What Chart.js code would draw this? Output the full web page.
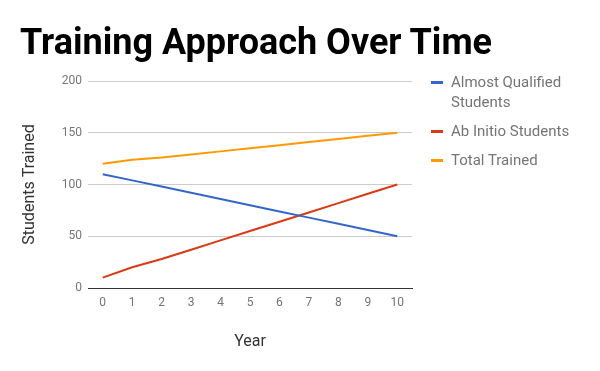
<!DOCTYPE html>
<html lang="en">
<head>
  <meta charset="UTF-8">
  <title>Training Approach Over Time</title>
  <style>
    html, body {
      margin: 0;
      padding: 0;
      background: #fff;
    }
    #wrap {
      position: relative;
      width: 600px;
      height: 371px;
      overflow: hidden;
    }
    #title {
      position: absolute;
      left: 20px;
      top: 24px;
      font-family: Roboto, sans-serif;
      font-weight: bold;
      font-size: 36px;
      line-height: 36px;
      color: #000;
      white-space: nowrap;
    }
    #legend {
      position: absolute;
      left: 431px;
      top: 72px;
      font-family: Roboto, sans-serif;
      font-size: 15px;
      line-height: 20px;
      color: #757575;
    }
    .item {
      position: relative;
      padding-left: 20px;
      margin-bottom: 9px;
      width: 140px;
    }
    .item .sw {
      position: absolute;
      left: 0;
      top: 9px;
      width: 12px;
      height: 3px;
    }
  </style>
</head>
<body>
  <div id="wrap">
    <canvas id="chart" width="600" height="371"></canvas>
    <div id="title">Training Approach Over Time</div>
    <div id="legend"></div>
  </div>

  <script src="https://cdn.jsdelivr.net/npm/chart.js"></script>
  <script>
    const years = ["0", "1", "2", "3", "4", "5", "6", "7", "8", "9", "10"];
    const almostQualified = [110, 104, 98, 92, 86, 80, 74, 68, 62, 56, 50];
    const abInitio = [10, 20, 28, 37, 46, 55, 64, 73, 82, 91, 100];
    const totalTrained = [120, 124, 126, 129, 132, 135, 138, 141, 144, 147, 150];
    const seriesNames = ["Almost Qualified Students", "Ab Initio Students", "Total Trained"];
    const seriesColors = ["#3366cc", "#dc3912", "#ff9900"];

    const legend = document.getElementById("legend");
    legend.innerHTML = seriesNames.map((name, i) =>
      `<div class="item"><span class="sw" style="background:${seriesColors[i]}"></span>${name}</div>`
    ).join("");

    const ctx = document.getElementById("chart").getContext("2d");
    const seriesData = [almostQualified, abInitio, totalTrained];

    new Chart(ctx, {
      type: "line",
      data: {
        labels: years,
        datasets: seriesNames.map((name, i) => ({
          label: name,
          data: seriesData[i],
          borderColor: seriesColors[i],
          backgroundColor: seriesColors[i],
          borderWidth: 2,
          pointRadius: 0,
          tension: 0
        }))
      },
      options: {
        responsive: false,
        animation: false,
        layout: {
          padding: { left: 0, top: 81, right: 188, bottom: 0 }
        },
        plugins: {
          legend: { display: false },
          tooltip: { enabled: false }
        },
        scales: {
          x: {
            type: "category",
            offset: true,
            grid: { display: false, drawTicks: false },
            border: { display: true, color: "#333", width: 1 },
            ticks: {
              color: "#757575",
              font: { family: "Roboto", size: 12 },
              padding: 8,
              maxRotation: 0
            },
            title: {
              display: true,
              text: "Year",
              color: "#333",
              font: { family: "Roboto", size: 16 },
              padding: { top: 0, bottom: 19 }
            },
            afterFit: (scale) => { scale.height = 83; }
          },
          y: {
            min: 0,
            max: 200,
            ticks: {
              stepSize: 50,
              color: "#757575",
              font: { family: "Roboto", size: 12 },
              padding: 6
            },
            grid: { color: "#cccccc", drawTicks: false },
            border: { display: false },
            title: {
              display: true,
              text: "Students Trained",
              color: "#333",
              font: { family: "Roboto", size: 16 },
              padding: { top: 20, bottom: 0 }
            },
            afterFit: (scale) => { scale.width = 88; }
          }
        }
      }
    });
  </script>
</body>
</html>
